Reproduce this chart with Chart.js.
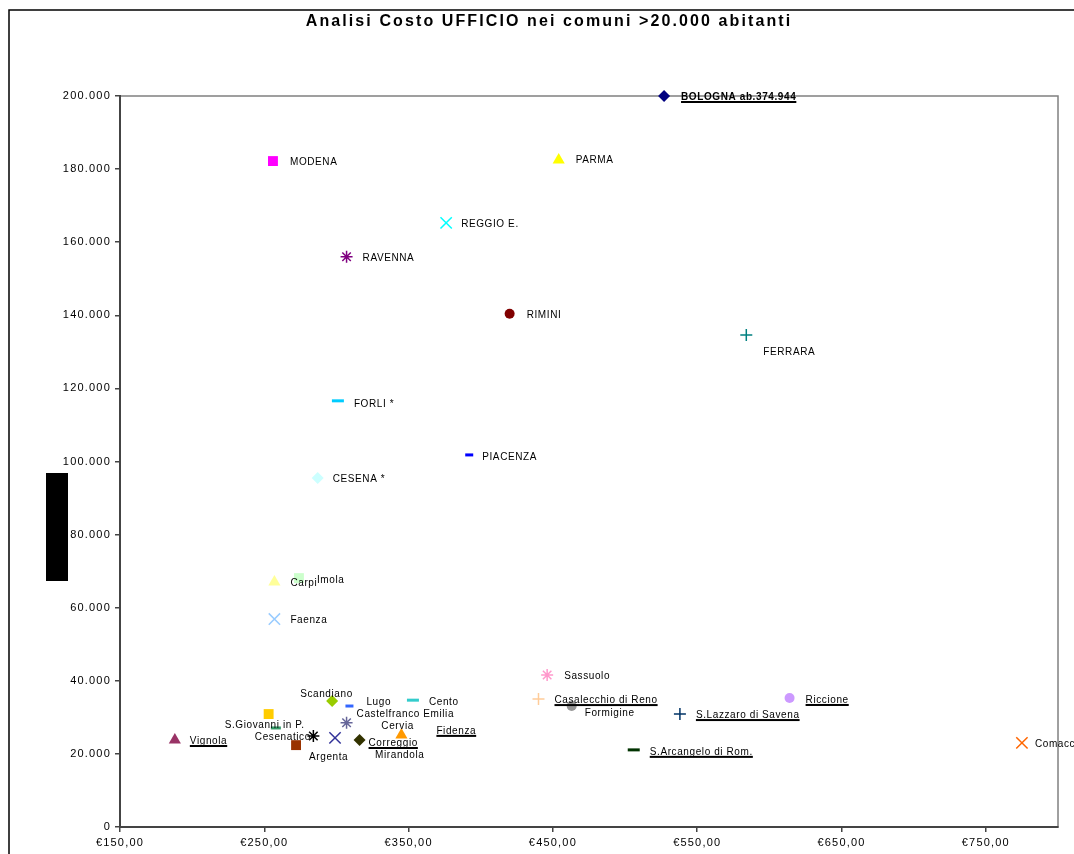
<!DOCTYPE html>
<html>
<head>
<meta charset="utf-8">
<script src="https://cdn.jsdelivr.net/npm/chart.js@4.4.1/dist/chart.umd.min.js"></script>
<style>
  html, body { margin: 0; padding: 0; background: #fff; }
  #chart { display: block; }
</style>
</head>
<body>
<canvas id="chart" width="1074" height="854"></canvas>
<script>
const titolo = 'Analisi Costo UFFICIO nei comuni >20.000 abitanti';

const comuni = ['BOLOGNA ab.374.944', 'MODENA', 'PARMA', 'REGGIO E.', 'RAVENNA', 'RIMINI', 'FERRARA',
    'FORLI *', 'PIACENZA', 'CESENA *', 'Carpi', 'Imola', 'Faenza', 'Sassuolo', 'Casalecchio di Reno',
    'Formigine', 'S.Lazzaro di Savena', 'Riccione', 'S.Arcangelo di Rom.', 'Comacchio', 'Scandiano',
    'Lugo', 'Cento', 'S.Giovanni in P.', 'Cesenatico', 'Castelfranco Emilia', 'Cervia', 'Fidenza',
    'Correggio', 'Mirandola', 'Argenta', 'Vignola'];
const costo = [527, 256, 454, 376, 307, 420, 584, 301, 392, 287, 257, 274, 257, 446, 440,
    463, 538, 614, 506, 775, 297, 309, 353, 253, 258, 307, 284, 345, 316, 272, 299, 188];
const abitanti = [200000, 182200, 182500, 165300, 156000, 140400, 134600, 116600, 101800, 95500,
    67000, 68100, 56900, 41600, 35000, 33100, 30900, 35300, 21100, 23000, 34500, 33100, 34700,
    30900, 27100, 28500, 24900, 25200, 23800, 22400, 24400, 23800];

const xTicks = [150, 250, 350, 450, 550, 650, 750];
const yTicks = [0, 20000, 40000, 60000, 80000, 100000, 120000, 140000, 160000, 180000, 200000];

// marker style, colour, radius, label offset [dx, dy], underline
const stili = [
    ['rectRot', '#000080', 6, [17, 1], true],
    ['rect', '#FF00FF', 7, [17, 1], false],
    ['triangle', '#FFFF00', 7, [17, 0], false],
    ['crossRot', '#00FFFF', 8, [15, 1], false],
    ['star', '#800080', 6, [16, 1], false],
    ['circle', '#800000', 5, [17, 1], false],
    ['cross', '#008080', 6, [17, 17], false],
    ['line', '#00CCFF', 6, [16, 3], false],
    ['line', '#0000FF', 4, [13, 2], false],
    ['rectRot', '#CCFFFF', 6, [15, 1], false],
    ['triangle', '#FFFF99', 7, [16, 1], false],
    ['rect', '#CCFFCC', 7, [18, 2], false],
    ['crossRot', '#99CCFF', 8, [16, 1], false],
    ['star', '#FF99CC', 6, [17, 1], false],
    ['cross', '#FFCC99', 6, [16, 1], true],
    ['circle', '#969696', 5, [13, 7], false],
    ['cross', '#003366', 6, [16, 1], true],
    ['circle', '#CC99FF', 5, [16, 2], true],
    ['line', '#003300', 6, [16, 2], true],
    ['crossRot', '#FF6600', 8, [13, 1], false],
    ['rectRot', '#99CC00', 6, [-32, -7], false],
    ['line', '#3366FF', 4, [17, -4], false],
    ['line', '#33CCCC', 6, [16, 2], false],
    ['rect', '#FFCC00', 7, [-44, 11], false],
    ['line', '#339966', 5, [-21, 9], false],
    ['star', '#666699', 6, [10, -9], false],
    ['star', '#000000', 6, [68, -10], false],
    ['triangle', '#FF9900', 7, [35, -4], true],
    ['rectRot', '#333300', 6, [9, 3], true],
    ['rect', '#993300', 7, [79, 10], false],
    ['crossRot', '#333399', 8, [-26, 19], false],
    ['triangle', '#993366', 7, [15, 1], true],
];

function formatMigliaia(v) {
    return String(v).replace(/\B(?=(\d{3})+(?!\d))/g, '.');
}

const datasets = comuni.map((nome, i) => {
    const [stile, colore, raggio] = stili[i];
    const aperto = ['crossRot', 'cross', 'star', 'line'].includes(stile);
    return {
        label: nome,
        data: [{ x: costo[i], y: abitanti[i] }],
        pointStyle: stile,
        pointRadius: raggio,
        backgroundColor: colore,
        borderColor: colore,
        borderWidth: stile === 'line' ? 3 : (aperto ? 1.5 : 0),
        clip: false,
    };
});

const spaziatura = {
    id: 'spaziatura',
    beforeLayout(chart) { chart.ctx.letterSpacing = '1.2px'; },
    beforeDraw(chart) {
        const ctx = chart.ctx;
        ctx.letterSpacing = '1.2px';
        ctx.save();
        // cornice esterna
        ctx.strokeStyle = '#000';
        ctx.lineWidth = 1.5;
        ctx.strokeRect(9, 10, 1100, 900);
        // bordo area grafico
        const a = chart.chartArea;
        ctx.strokeStyle = '#808080';
        ctx.lineWidth = 1.5;
        ctx.strokeRect(a.left, a.top, a.right - a.left, a.bottom - a.top);
        // titolo
        ctx.letterSpacing = '2.1px';
        ctx.fillStyle = '#000';
        ctx.font = 'bold 16px "Liberation Sans", Arial, sans-serif';
        ctx.textAlign = 'center';
        ctx.textBaseline = 'middle';
        ctx.fillText(titolo, 549, 22);
        // titolo asse (riquadro nero)
        ctx.fillRect(46, 473, 22, 108);
        ctx.restore();
    },
    afterDatasetsDraw(chart) {
        const ctx = chart.ctx;
        ctx.save();
        ctx.letterSpacing = '0.6px';
        ctx.textBaseline = 'middle';
        ctx.textAlign = 'left';
        ctx.fillStyle = '#000';
        comuni.forEach((nome, i) => {
            const p = chart.getDatasetMeta(i).data[0];
            const [dx, dy] = stili[i][3];
            ctx.font = (i === 0 ? 'bold ' : '') + '10px "Liberation Sans", Arial, sans-serif';
            const tx = p.x + dx, ty = p.y + dy;
            ctx.fillText(nome, tx, ty);
            if (stili[i][4]) {
                const w = ctx.measureText(nome).width;
                ctx.fillRect(tx, ty + 4, w, 2);
            }
        });
        ctx.restore();
    }
};

new Chart(document.getElementById('chart'), {
    type: 'scatter',
    data: { datasets },
    options: {
        responsive: false,
        animation: false,
        events: [],
        layout: { padding: { left: 0, right: 16, top: 96, bottom: 0 } },
        plugins: { legend: { display: false }, tooltip: { enabled: false }, title: { display: false } },
        scales: {
            x: {
                type: 'linear',
                min: 150,
                max: 800,
                afterBuildTicks: (s) => { s.ticks = xTicks.map(v => ({ value: v })); },
                afterFit: (s) => { s.height = 27; },
                grid: { drawOnChartArea: false, drawTicks: true, tickLength: 5, color: '#444', lineWidth: 1.5 },
                border: { color: '#444', width: 2 },
                ticks: {
                    color: '#000',
                    font: { family: '"Liberation Sans", Arial, sans-serif', size: 11 },
                    padding: 4,
                    maxRotation: 0,
                    callback: (v) => '€' + v + ',00',
                },
            },
            y: {
                type: 'linear',
                min: 0,
                max: 200000,
                afterBuildTicks: (s) => { s.ticks = yTicks.map(v => ({ value: v })); },
                afterFit: (s) => { s.width = 120; },
                grid: { drawOnChartArea: false, drawTicks: true, tickLength: 5, color: '#444', lineWidth: 1.5 },
                border: { color: '#444', width: 2 },
                ticks: {
                    color: '#000',
                    font: { family: '"Liberation Sans", Arial, sans-serif', size: 11 },
                    padding: 4,
                    callback: (v) => formatMigliaia(v),
                },
            },
        },
    },
    plugins: [spaziatura],
});
</script>
</body>
</html>
